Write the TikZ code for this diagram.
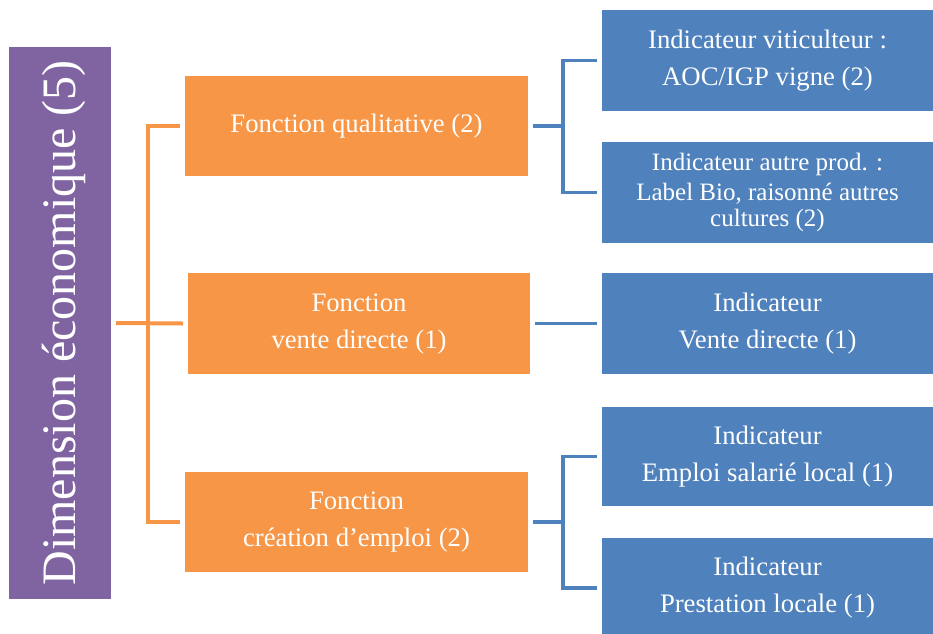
\documentclass[tikz,border=0pt]{standalone}
\usepackage{fontspec}
\setmainfont{Liberation Serif}
\definecolor{purp}{HTML}{8064A2}
\definecolor{orng}{HTML}{F79646}
\definecolor{blu}{HTML}{4F81BD}
\begin{document}
\begin{tikzpicture}[x=1pt,y=-1pt,
  box/.style={inner sep=0pt, outer xsep=5pt, outer ysep=0pt, text=white, align=center,
              font=\fontsize{26.7}{37}\selectfont},
  obox/.style={box, fill=orng, minimum width=343pt, minimum height=100pt},
  bbox/.style={box, fill=blu, minimum width=331pt, minimum height=101pt},
  oline/.style={draw=orng, line width=4pt},
  bline/.style={draw=blu, line width=3.5pt}]
\useasboundingbox (0,0) rectangle (933,633);
\begin{scope}
\clip (0,0) rectangle (933,633);
% root
\node[fill=purp, rotate=90, minimum width=552pt, minimum height=102pt, inner sep=0pt,
      outer ysep=5pt, text=white, font=\fontsize{48}{58}\selectfont,
      text height=36pt, text depth=6pt] (p) at (60,323) {Dimension économique (5)};
% functions
\node[obox] (o1) at (356.5,126) {Fonction qualitative (2)};
\node[obox, minimum width=342pt, minimum height=101pt] (o2) at (359,323.5) {Fonction\\vente directe (1)};
\node[obox] (o3) at (356.5,522) {Fonction\\création d’emploi (2)};
% indicators
\node[bbox] (b1) at (767.5,60.5) {Indicateur viticulteur :\\AOC/IGP vigne (2)};
\node[bbox, font=\fontsize{25}{37}\selectfont] (b2) at (767.5,192.5)
  {Indicateur autre prod. :\\[-7pt]Label Bio, raisonné autres\\[-11pt]cultures (2)};
\node[bbox] (b3) at (767.5,323.5) {Indicateur\\Vente directe (1)};
\node[bbox, minimum height=99pt] (b4) at (767.5,456.5) {Indicateur\\Emploi salarié local (1)};
\node[bbox, minimum height=100pt] (b5) at (767.5,588) {Indicateur\\Prestation locale (1)};
% connectors
\coordinate (oj) at (148,323.5);
\draw[oline] (o1.west) -| (oj) |- (o3.west);
\draw[oline] (p.south) -- (o2.west);
\coordinate (bj1) at (563,126);
\coordinate (bj3) at (563,522);
\draw[bline] (o1.east) -- (bj1);
\draw[bline] (b1.west) -| (bj1) |- (b2.west);
\draw[bline] (o2.east) -- (b3.west);
\draw[bline] (o3.east) -- (bj3);
\draw[bline] (b4.west) -| (bj3) |- (b5.west);
\end{scope}
\end{tikzpicture}
\end{document}
